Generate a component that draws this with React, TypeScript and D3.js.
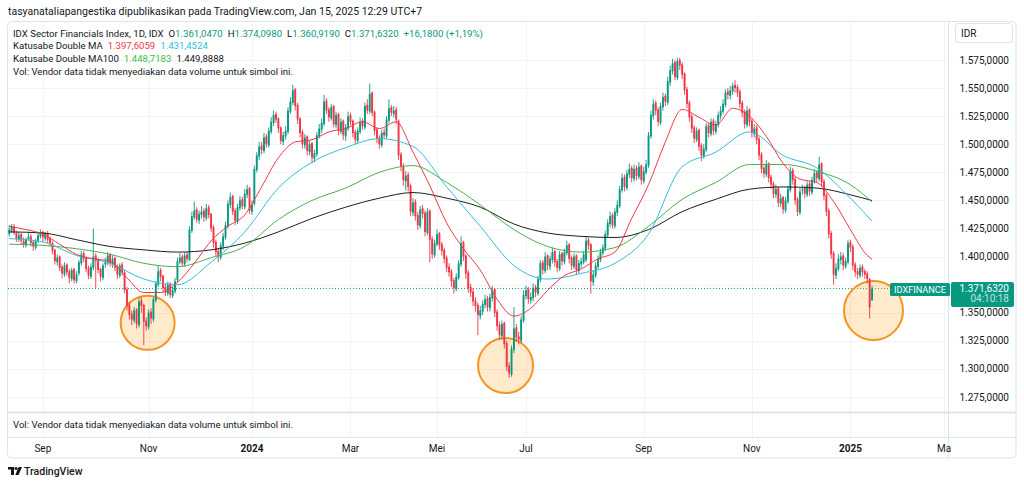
import React from 'react';
import * as d3 from 'd3';

// daily candles, IDX Sector Financials (IDXFINANCE), Aug 2023 .. Jan 15 2025
const opens = [
  1420, 1423, 1427, 1421, 1415, 1420, 1414, 1410, 1416, 1418,
  1413, 1408, 1414, 1418, 1422, 1416, 1421, 1416, 1412, 1406,
  1395, 1400, 1391, 1384, 1393, 1387, 1380, 1389, 1378, 1385,
  1394, 1403, 1399, 1390, 1382, 1390, 1401, 1397, 1389, 1381,
  1393, 1394, 1402, 1393, 1399, 1391, 1383, 1393, 1386, 1371,
  1357, 1349, 1343, 1353, 1339, 1361, 1357, 1343, 1337, 1351,
  1344, 1361, 1375, 1388, 1383, 1373, 1367, 1376, 1365, 1369,
  1379, 1395, 1400, 1393, 1402, 1397, 1423, 1435, 1442, 1432,
  1437, 1441, 1434, 1444, 1438, 1426, 1413, 1405, 1399, 1409,
  1417, 1427, 1446, 1454, 1441, 1431, 1443, 1451, 1444, 1455,
  1461, 1440, 1447, 1477, 1489, 1499, 1494, 1507, 1499, 1511,
  1519, 1527, 1523, 1515, 1502, 1507, 1511, 1529, 1537, 1549,
  1535, 1523, 1511, 1499, 1507, 1493, 1501, 1487, 1491, 1507,
  1513, 1518, 1539, 1531, 1523, 1534, 1517, 1527, 1511, 1521,
  1507, 1514, 1526, 1521, 1511, 1503, 1511, 1521, 1515, 1535,
  1529, 1546, 1529, 1513, 1506, 1499, 1511, 1507, 1521, 1533,
  1527, 1531, 1521, 1491, 1481, 1467, 1473, 1463, 1439, 1449,
  1437, 1427, 1443, 1439, 1421, 1441, 1416, 1401, 1411, 1421,
  1411, 1406, 1399, 1391, 1387, 1379, 1371, 1381, 1393, 1413,
  1401, 1386, 1373, 1369, 1361, 1357, 1347, 1351, 1357, 1363,
  1354, 1363, 1371, 1351, 1339, 1329, 1341, 1323, 1303, 1295,
  1317, 1337, 1329, 1325, 1343, 1365, 1371, 1361, 1363, 1373,
  1367, 1379, 1395, 1387, 1401, 1391, 1397, 1405, 1396, 1389,
  1403, 1395, 1403, 1411, 1399, 1391, 1401, 1387, 1393, 1395,
  1397, 1415, 1411, 1377, 1383, 1391, 1397, 1403, 1407, 1419,
  1429, 1437, 1427, 1439, 1445, 1459, 1471, 1461, 1473, 1479,
  1469, 1479, 1471, 1481, 1467, 1475, 1481, 1507, 1525, 1537,
  1531, 1519, 1533, 1543, 1537, 1555, 1565, 1573, 1559, 1575,
  1571, 1563, 1549, 1537, 1525, 1515, 1504, 1513, 1499, 1489,
  1495, 1517, 1509, 1521, 1511, 1517, 1525, 1529, 1535, 1547,
  1543, 1547, 1553, 1551, 1547, 1537, 1529, 1517, 1531, 1521,
  1509, 1515, 1505, 1491, 1479, 1473, 1483, 1471, 1465, 1455,
  1461, 1447, 1453, 1441, 1449, 1459, 1477, 1469, 1451, 1439,
  1459, 1461, 1455, 1465, 1457, 1467, 1475, 1469, 1483, 1467,
  1455, 1441, 1421, 1403, 1383, 1389, 1397, 1401, 1391, 1395,
  1413, 1409, 1393, 1387, 1383, 1391, 1387, 1385, 1380, 1361.047,
];
const highs = [
  1428, 1429, 1429, 1423, 1422, 1421, 1417, 1417, 1421, 1420,
  1415, 1416, 1422, 1424, 1423, 1422, 1423, 1418, 1414, 1407,
  1402, 1401, 1393, 1395, 1394, 1389, 1390, 1390, 1387, 1397,
  1405, 1405, 1400, 1392, 1394, 1425, 1403, 1399, 1390, 1394,
  1399, 1404, 1403, 1401, 1400, 1393, 1394, 1395, 1388, 1373,
  1360, 1352, 1355, 1354, 1363, 1364, 1358, 1346, 1353, 1354,
  1364, 1378, 1392, 1390, 1384, 1376, 1378, 1377, 1373, 1381,
  1399, 1403, 1402, 1404, 1404, 1427, 1440, 1449, 1444, 1441,
  1445, 1443, 1447, 1446, 1439, 1428, 1415, 1408, 1413, 1421,
  1431, 1450, 1457, 1455, 1443, 1447, 1454, 1453, 1460, 1464,
  1462, 1450, 1481, 1493, 1502, 1502, 1510, 1509, 1515, 1524,
  1530, 1529, 1524, 1516, 1511, 1516, 1533, 1542, 1553, 1550,
  1537, 1524, 1513, 1509, 1508, 1503, 1502, 1495, 1511, 1518,
  1523, 1544, 1541, 1533, 1536, 1535, 1529, 1528, 1523, 1522,
  1518, 1529, 1528, 1522, 1513, 1515, 1524, 1523, 1537, 1540,
  1554, 1547, 1530, 1515, 1508, 1513, 1514, 1525, 1540, 1535,
  1534, 1533, 1522, 1493, 1483, 1476, 1475, 1465, 1452, 1451,
  1440, 1445, 1446, 1441, 1443, 1442, 1418, 1415, 1424, 1422,
  1413, 1408, 1401, 1394, 1389, 1381, 1385, 1397, 1418, 1414,
  1402, 1388, 1376, 1372, 1364, 1359, 1356, 1361, 1366, 1365,
  1367, 1374, 1372, 1353, 1342, 1343, 1342, 1325, 1306, 1321,
  1355, 1340, 1333, 1347, 1370, 1374, 1373, 1368, 1376, 1375,
  1383, 1397, 1397, 1404, 1402, 1401, 1408, 1406, 1398, 1405,
  1404, 1407, 1414, 1412, 1401, 1403, 1402, 1397, 1399, 1405,
  1418, 1417, 1412, 1388, 1395, 1401, 1407, 1411, 1423, 1433,
  1440, 1439, 1443, 1450, 1463, 1474, 1473, 1477, 1483, 1481,
  1482, 1481, 1484, 1482, 1480, 1486, 1511, 1530, 1540, 1539,
  1533, 1537, 1546, 1545, 1560, 1570, 1576, 1575, 1577, 1577,
  1573, 1564, 1551, 1539, 1527, 1517, 1515, 1514, 1501, 1500,
  1519, 1519, 1523, 1523, 1521, 1529, 1534, 1540, 1549, 1550,
  1552, 1555, 1557, 1553, 1549, 1539, 1531, 1534, 1532, 1523,
  1518, 1517, 1507, 1493, 1481, 1486, 1484, 1473, 1467, 1464,
  1462, 1456, 1454, 1453, 1463, 1480, 1479, 1471, 1453, 1461,
  1464, 1463, 1467, 1467, 1471, 1478, 1477, 1489, 1484, 1469,
  1457, 1443, 1423, 1405, 1394, 1402, 1404, 1403, 1399, 1415,
  1415, 1411, 1395, 1390, 1393, 1393, 1389, 1387, 1381, 1374.098,
];
const lows = [
  1418, 1421, 1419, 1413, 1413, 1411, 1408, 1408, 1414, 1409,
  1405, 1406, 1412, 1416, 1413, 1414, 1412, 1409, 1402, 1393,
  1392, 1387, 1381, 1382, 1383, 1376, 1378, 1376, 1376, 1383,
  1392, 1395, 1386, 1380, 1380, 1388, 1372, 1385, 1378, 1379,
  1390, 1392, 1391, 1390, 1387, 1380, 1381, 1383, 1367, 1352,
  1344, 1339, 1341, 1336, 1337, 1350, 1321, 1334, 1335, 1340,
  1342, 1359, 1373, 1378, 1368, 1365, 1365, 1363, 1363, 1367,
  1377, 1393, 1391, 1391, 1395, 1396, 1421, 1433, 1430, 1429,
  1434, 1431, 1432, 1434, 1422, 1408, 1400, 1395, 1397, 1406,
  1415, 1425, 1443, 1437, 1428, 1429, 1441, 1442, 1442, 1452,
  1438, 1437, 1445, 1475, 1486, 1491, 1492, 1497, 1497, 1509,
  1516, 1519, 1510, 1500, 1499, 1504, 1509, 1527, 1535, 1530,
  1518, 1506, 1496, 1496, 1490, 1490, 1483, 1484, 1489, 1505,
  1510, 1516, 1527, 1520, 1521, 1515, 1514, 1508, 1509, 1504,
  1503, 1512, 1517, 1506, 1500, 1501, 1509, 1513, 1513, 1527,
  1527, 1525, 1508, 1501, 1496, 1497, 1505, 1505, 1519, 1525,
  1524, 1518, 1486, 1476, 1463, 1459, 1458, 1436, 1436, 1432,
  1424, 1425, 1434, 1418, 1419, 1395, 1398, 1399, 1409, 1406,
  1401, 1394, 1386, 1382, 1373, 1367, 1369, 1379, 1391, 1396,
  1380, 1368, 1364, 1356, 1351, 1330, 1344, 1348, 1354, 1351,
  1351, 1360, 1346, 1334, 1326, 1326, 1318, 1298, 1292, 1293,
  1314, 1324, 1322, 1323, 1341, 1362, 1358, 1358, 1360, 1364,
  1365, 1377, 1384, 1385, 1388, 1388, 1394, 1391, 1386, 1387,
  1392, 1393, 1401, 1394, 1388, 1389, 1384, 1385, 1390, 1393,
  1395, 1406, 1367, 1374, 1381, 1389, 1395, 1401, 1405, 1417,
  1426, 1425, 1425, 1436, 1443, 1457, 1458, 1459, 1470, 1466,
  1467, 1468, 1469, 1464, 1465, 1473, 1479, 1505, 1522, 1526,
  1516, 1517, 1530, 1534, 1535, 1552, 1562, 1557, 1557, 1566,
  1558, 1544, 1532, 1520, 1510, 1501, 1502, 1494, 1485, 1487,
  1493, 1506, 1507, 1508, 1509, 1515, 1522, 1527, 1533, 1540,
  1540, 1544, 1546, 1542, 1532, 1524, 1514, 1515, 1516, 1506,
  1506, 1500, 1486, 1474, 1470, 1471, 1466, 1460, 1452, 1452,
  1444, 1444, 1438, 1439, 1447, 1457, 1464, 1446, 1436, 1437,
  1455, 1452, 1453, 1454, 1455, 1465, 1466, 1467, 1462, 1450,
  1436, 1416, 1398, 1375, 1380, 1387, 1393, 1388, 1389, 1393,
  1404, 1388, 1382, 1380, 1381, 1382, 1380, 1376, 1345, 1360.919,
];
const closes = [
  1424, 1427, 1421, 1416, 1419, 1414, 1411, 1415, 1418, 1412,
  1409, 1414, 1419, 1421, 1417, 1420, 1415, 1412, 1405, 1396,
  1399, 1390, 1385, 1392, 1386, 1381, 1388, 1379, 1384, 1395,
  1402, 1398, 1389, 1383, 1391, 1400, 1396, 1388, 1382, 1392,
  1395, 1401, 1394, 1398, 1390, 1384, 1392, 1386, 1370, 1356,
  1348, 1344, 1352, 1340, 1360, 1356, 1342, 1338, 1350, 1345,
  1362, 1376, 1387, 1382, 1372, 1368, 1375, 1366, 1370, 1378,
  1396, 1399, 1394, 1401, 1398, 1424, 1436, 1441, 1433, 1438,
  1440, 1435, 1443, 1437, 1425, 1412, 1404, 1400, 1410, 1418,
  1428, 1447, 1453, 1440, 1432, 1444, 1450, 1445, 1456, 1460,
  1441, 1446, 1478, 1490, 1498, 1495, 1506, 1500, 1512, 1520,
  1526, 1522, 1514, 1503, 1508, 1512, 1530, 1538, 1548, 1534,
  1522, 1510, 1500, 1506, 1494, 1500, 1488, 1492, 1508, 1514,
  1519, 1538, 1530, 1524, 1533, 1518, 1526, 1512, 1520, 1508,
  1515, 1525, 1520, 1510, 1504, 1512, 1520, 1516, 1534, 1530,
  1545, 1528, 1512, 1505, 1500, 1510, 1508, 1522, 1532, 1528,
  1530, 1522, 1490, 1480, 1468, 1472, 1462, 1440, 1448, 1436,
  1428, 1442, 1438, 1422, 1440, 1415, 1402, 1412, 1420, 1410,
  1405, 1398, 1390, 1386, 1378, 1372, 1382, 1394, 1412, 1400,
  1385, 1372, 1368, 1360, 1356, 1348, 1352, 1358, 1362, 1355,
  1364, 1370, 1350, 1338, 1330, 1340, 1322, 1302, 1296, 1318,
  1336, 1328, 1326, 1344, 1366, 1370, 1362, 1364, 1372, 1368,
  1380, 1394, 1388, 1400, 1392, 1398, 1404, 1395, 1390, 1402,
  1396, 1404, 1410, 1398, 1392, 1400, 1388, 1394, 1396, 1402,
  1414, 1410, 1378, 1384, 1392, 1398, 1404, 1408, 1420, 1430,
  1436, 1428, 1440, 1446, 1460, 1470, 1462, 1474, 1478, 1470,
  1478, 1472, 1480, 1468, 1476, 1482, 1508, 1526, 1536, 1530,
  1520, 1534, 1542, 1538, 1556, 1566, 1572, 1560, 1574, 1570,
  1562, 1548, 1536, 1524, 1514, 1505, 1512, 1498, 1490, 1496,
  1516, 1510, 1520, 1512, 1518, 1526, 1530, 1536, 1546, 1544,
  1548, 1552, 1550, 1546, 1536, 1528, 1518, 1530, 1520, 1510,
  1514, 1504, 1490, 1478, 1474, 1482, 1470, 1464, 1456, 1460,
  1448, 1452, 1442, 1450, 1460, 1476, 1468, 1450, 1440, 1458,
  1460, 1456, 1464, 1458, 1468, 1474, 1470, 1482, 1466, 1454,
  1440, 1420, 1402, 1384, 1390, 1398, 1400, 1392, 1396, 1412,
  1408, 1392, 1386, 1384, 1390, 1386, 1384, 1380, 1355, 1371.632,
];

// moving averages at sample bars
const maBars = [0, 14, 28, 42, 56, 70, 84, 98, 112, 126, 140, 154, 168, 182, 196, 210, 224, 238, 252, 266, 280, 294, 308, 322, 336, 350, 359];
const maCyan = [1416, 1413, 1401, 1394, 1380, 1375, 1395, 1422, 1461, 1484, 1497, 1505, 1498, 1462, 1427, 1392, 1380, 1385, 1394, 1420, 1480, 1493, 1511, 1490, 1479, 1452, 1431.4524];
const maGreen = [1411, 1410, 1407, 1402, 1394, 1391, 1399, 1409, 1433, 1450, 1461, 1475, 1481, 1466, 1446, 1424, 1409, 1404, 1408, 1427, 1451, 1466, 1482, 1482, 1476, 1464, 1448.7183];
const maBlack = [1422, 1421, 1415, 1409, 1406, 1404, 1406, 1412, 1422, 1434, 1444, 1452, 1457, 1452, 1444, 1429, 1421, 1418, 1417, 1424, 1440, 1451, 1460, 1462, 1461, 1455, 1449.8888];
const redBars = [0, 7, 14, 21, 28, 35, 42, 49, 56, 63, 70, 77, 84, 91, 98, 105, 112, 119, 126, 133, 140, 147, 154, 161, 168, 175, 182, 189, 196, 203, 210, 217, 224, 231, 238, 245, 252, 259, 266, 273, 280, 287, 294, 301, 308, 315, 322, 329, 336, 343, 350, 357, 359];
const maRed = [1427, 1424, 1420, 1411, 1402, 1398, 1396, 1381, 1368, 1368, 1377, 1394, 1414, 1427, 1437, 1462, 1488, 1502, 1504, 1511, 1514, 1520, 1514, 1520, 1493, 1463, 1430, 1407, 1388, 1362, 1347, 1354, 1370, 1383, 1389, 1398, 1404, 1434, 1464, 1502, 1531, 1524, 1517, 1532, 1525, 1507, 1483, 1469, 1466, 1449, 1424, 1401, 1397.6059];

const monthLabels = ['Sep', 'Nov', '2024', 'Mar', 'Mei', 'Jul', 'Sep', 'Nov', '2025', 'Ma'];
const monthBars = [14, 58, 101, 142, 178, 215, 264, 309, 350, 389];
const priceTicks = [1275, 1300, 1325, 1350, 1375, 1400, 1425, 1450, 1475, 1500, 1525, 1550, 1575];

// highlighted lows (bar, price)
const markBars = [57.6, 206.5, 359.6];
const markPrices = [1341, 1303, 1352];

const UP = '#089981';
const DOWN = '#F23645';
const FONT = 'Roboto, "Noto Sans", sans-serif';
const TXT = '#131722';

const locale = d3.formatLocale({ decimal: ',', thousands: '.', grouping: [3], currency: ['', ''] });
const fmt4 = locale.format(',.4f');

export default function App() {
  const W = 1024, H = 485;
  const left = 8, right = 948, frameRight = 1016;
  const top = 22, paneBottom = 412, volBottom = 437, axisBottom = 458;

  const x = d3.scaleLinear().domain([-0.5, 390.6]).range([left, right]);
  const y = d3.scaleLinear().domain([1275, 1575]).range([397, 60]);

  const last = closes[closes.length - 1];
  const lastY = y(last);

  const mkLine = (bars: number[]) =>
    d3.line<number>().x((_, k) => x(bars[k])).y(v => y(v)).curve(d3.curveMonotoneX);

  const lines = [
    { d: mkLine(maBars)(maBlack), c: '#1e1e1e' },
    { d: mkLine(maBars)(maGreen), c: '#4CAF50' },
    { d: mkLine(maBars)(maCyan), c: '#2EBFDA' },
    { d: mkLine(redBars)(maRed), c: '#F23645' },
  ];
  const radii = [27, 27.5, 29.5];

  return (
    <svg width={W} height={H} style={{ position: 'absolute', left: 0, top: 0, background: '#fff' }} fontFamily={FONT}>
      <defs>
        <clipPath id="pane"><rect x={left} y={top} width={right - left} height={paneBottom - top} /></clipPath>
      </defs>
      <rect width={W} height={H} fill="#fff" />
      <text x={8} y={15} fontSize={10.5} fill={TXT}>tasyanataliapangestika dipublikasikan pada TradingView.com, Jan 15, 2025 12:29 UTC+7</text>

      {/* frame */}
      <rect x={7.5} y={21.5} width={frameRight - 7.5} height={axisBottom - 21.5} rx={4} fill="none" stroke="#e0e3eb" />

      {/* grid */}
      <g stroke="#f0f3fa" strokeWidth={1}>
        {priceTicks.map(p => <line key={p} x1={left} x2={right} y1={Math.round(y(p)) + 0.5} y2={Math.round(y(p)) + 0.5} />)}
        {monthBars.map((b, k) => <line key={k} x1={Math.round(x(b)) + 0.5} x2={Math.round(x(b)) + 0.5} y1={top} y2={volBottom} />)}
      </g>

      {/* separators */}
      <line x1={right + 0.5} x2={right + 0.5} y1={top} y2={axisBottom} stroke="#e0e3eb" />
      <line x1={left} x2={frameRight} y1={paneBottom + 0.5} y2={paneBottom + 0.5} stroke="#e0e3eb" strokeWidth={2} />
      <line x1={left} x2={frameRight} y1={volBottom + 0.5} y2={volBottom + 0.5} stroke="#e0e3eb" />

      <g clipPath="url(#pane)">
        {/* last price dotted line */}
        <line x1={left} x2={right} y1={lastY} y2={lastY} stroke={UP} strokeDasharray="1 2" strokeWidth={1} />

        {/* highlight circles */}
        {markBars.map((b, k) => (
          <circle key={k} cx={x(b)} cy={y(markPrices[k])} r={radii[k]} fill="rgba(255,152,0,0.2)" stroke="#F7931E" strokeWidth={2} />
        ))}

        {/* candles */}
        {closes.map((c, i) => {
          const o = opens[i];
          const col = c >= o ? UP : DOWN;
          const cx = x(i);
          const t = y(Math.max(o, c));
          const b = y(Math.min(o, c));
          return (
            <g key={i}>
              <line x1={cx} x2={cx} y1={y(highs[i])} y2={y(lows[i])} stroke={col} strokeWidth={0.9} />
              <rect x={cx - 0.95} y={t} width={1.9} height={Math.max(1, b - t)} fill={col} />
            </g>
          );
        })}

        {lines.map((l, k) => <path key={k} d={l.d || ''} fill="none" stroke={l.c} strokeWidth={1} />)}
      </g>

      {/* legend */}
      <g fontSize={9.6} fill={TXT}>
        <text x={13} y={36.5}>
          <tspan>IDX Sector Financials Index, 1D, IDX</tspan>
          <tspan dx={5}>O</tspan><tspan fill={UP}>{fmt4(opens[opens.length - 1])}</tspan>
          <tspan dx={5}>H</tspan><tspan fill={UP}>{fmt4(highs[highs.length - 1])}</tspan>
          <tspan dx={5}>L</tspan><tspan fill={UP}>{fmt4(lows[lows.length - 1])}</tspan>
          <tspan dx={5}>C</tspan><tspan fill={UP}>{fmt4(last)}</tspan>
          <tspan dx={5} fill={UP}>{'+16,1800 (+1,19%)'}</tspan>
        </text>
        <text x={13} y={49}>
          <tspan>Katusabe Double MA</tspan>
          <tspan dx={5} fill="#F23645">{fmt4(maRed[maRed.length - 1])}</tspan>
          <tspan dx={5} fill="#2EBFDA">{fmt4(maCyan[maCyan.length - 1])}</tspan>
        </text>
        <text x={13} y={61.5}>
          <tspan>Katusabe Double MA100</tspan>
          <tspan dx={5} fill="#3DBE3D">{fmt4(maGreen[maGreen.length - 1])}</tspan>
          <tspan dx={5}>{fmt4(maBlack[maBlack.length - 1])}</tspan>
        </text>
        <text x={13} y={74.5}>Vol: Vendor data tidak menyediakan data volume untuk simbol ini.</text>
        <text x={13} y={427.5}>Vol: Vendor data tidak menyediakan data volume untuk simbol ini.</text>
      </g>

      {/* price axis */}
      <rect x={955.5} y={23.5} width={57} height={19} rx={3} fill="#fff" stroke="#e0e3eb" />
      <text x={961} y={37} fontSize={10} fill={TXT}>IDR</text>
      <g fontSize={10} fill={TXT} textAnchor="end">
        {priceTicks.filter(p => Math.abs(y(p) - lastY) > 12).map(p => (
          <text key={p} x={1009} y={y(p) + 3.5}>{fmt4(p)}</text>
        ))}
      </g>
      <rect x={951} y={282} width={63} height={25} rx={2} fill={UP} />
      <text x={1009} y={lastY + 3.5} fontSize={10} fill="#fff" textAnchor="end">{fmt4(last)}</text>
      <text x={1009} y={lastY + 14} fontSize={10} fill="rgba(255,255,255,0.75)" textAnchor="end">04:10:18</text>
      <rect x={890} y={283} width={60} height={13} rx={1.5} fill={UP} />
      <text x={894} y={lastY + 4.5} fontSize={9.5} fill="#fff" textLength={52} lengthAdjust="spacingAndGlyphs">IDXFINANCE</text>

      {/* time axis */}
      <g fontSize={10} fill={TXT} textAnchor="middle">
        {monthLabels.map((m, k) => (
          <text key={k} x={x(monthBars[k])} y={452} fontWeight={m.length === 4 && /\d/.test(m) ? 700 : 400}>{m}</text>
        ))}
      </g>

      {/* logo */}
      <g fill={TXT}>
        <path d="M8 467h6v8h-3v-5.5h-3z" />
        <circle cx={16} cy={468.5} r={1.5} />
        <path d="M18.5 467h3.5l-3.5 8h-3.2z" />
        <text x={24} y={475} fontSize={10.5} fontWeight={500}>TradingView</text>
      </g>
    </svg>
  );
}
